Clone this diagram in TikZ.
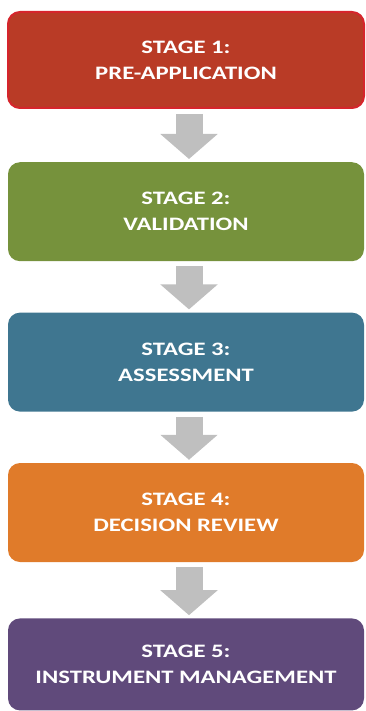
\documentclass[tikz,border=0pt]{standalone}
\usepackage{fontspec}
\setmainfont{Carlito}[FakeStretch=1.3]
\usepackage{xcolor}
\usepackage{tikz}
\usetikzlibrary{arrows.meta,positioning}

\definecolor{stageA}{HTML}{B93B26}
\definecolor{stageAline}{HTML}{D6252C}
\definecolor{stageB}{HTML}{76923C}
\definecolor{stageC}{HTML}{3F7690}
\definecolor{stageD}{HTML}{E07B2A}
\definecolor{stageE}{HTML}{604A7B}
\definecolor{flowgray}{HTML}{BFBFBF}

\begin{document}
\begin{tikzpicture}[
  x=1pt,y=1pt,
  stage/.style={rounded corners=12pt,minimum width=356pt,minimum height=99pt,
    text=white,align=center,font=\fontsize{19}{26}\selectfont\bfseries,
    text depth=0pt,inner sep=0pt},
  flow/.style={flowgray,line width=27pt,shorten <=5pt,shorten >=3pt,
    -{Triangle[width=56pt,length=25pt]}},
  node distance=51pt,
]
\useasboundingbox (0,0) rectangle (365,-711);
\node[stage,fill=stageA,draw=stageAline,line width=2pt,minimum height=96pt] (s1) at (186,-60)
  {STAGE 1:\\PRE-APPLICATION};
\node[stage,fill=stageB,below=53pt of s1] (s2) {STAGE 2:\\VALIDATION};
\node[stage,fill=stageC,below=of s2] (s3) {STAGE 3:\\ASSESSMENT};
\node[stage,fill=stageD,below=of s3] (s4) {STAGE 4:\\DECISION REVIEW};
\node[stage,fill=stageE,below=56pt of s4,minimum height=92pt] (s5) {STAGE 5:\\INSTRUMENT MANAGEMENT};

% arrows between stages
\foreach \a/\b in {s1/s2,s2/s3,s3/s4,s4/s5}
  \draw[flow] ([xshift=3pt]\a.south) -- ([xshift=3pt]\b.north);
\end{tikzpicture}
\end{document}
